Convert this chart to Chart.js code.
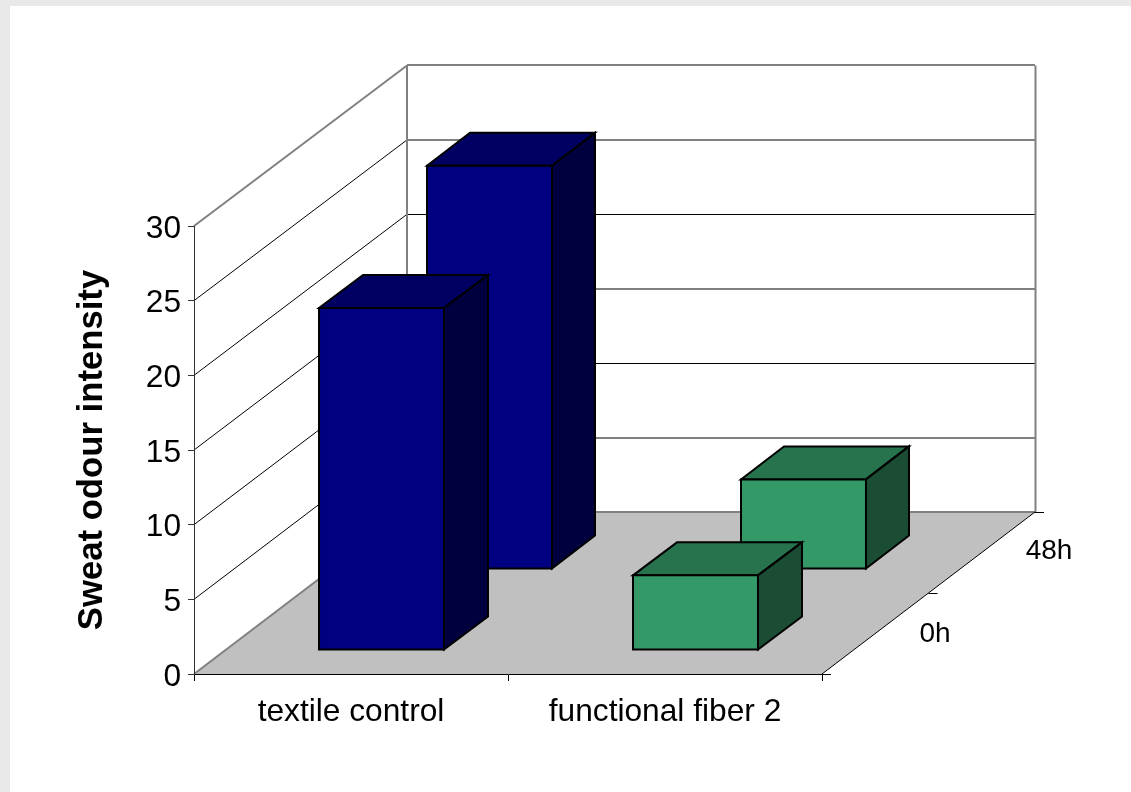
<!DOCTYPE html>
<html><head><meta charset="utf-8">
<style>
html,body{margin:0;padding:0;background:#e9e9e9;overflow:hidden}
#c{position:absolute;left:10px;top:6px;background:#fff;display:block}
</style>
<script src="https://cdn.jsdelivr.net/npm/chart.js@4"></script>
</head><body>
<canvas id="c" width="1121" height="786"></canvas>
<script>
const categories = ['textile control', 'functional fiber 2'];
const seriesNames = ['0h', '48h'];
const values0h = [22.9, 5];
const values48h = [27, 6];
const yTicks = [0, 5, 10, 15, 20, 25, 30];

const FONT = '"Liberation Sans", Arial, sans-serif';
const FLOOR = {dx: 213, dy: -162};           // projection of the depth axis
const BACK_SCALE = 0.9967;                   // back wall is very slightly shorter
const SLOT = [{dx: 30.5, dy: -24}, {dx: 138.5, dy: -105}]; // bar front plane, per series
const BAR = [{dx: 44, dy: -33}, {dx: 43, dy: -33}];        // bar depth, per series
const LABEL = [{x: 925, y: 628}, {x: 1039, y: 545}];
const FACE = [
  {front: '#000080', top: '#000062', side: '#00003f'},
  {front: '#339966', top: '#26734d', side: '#1a4d33'}
];

function poly(ctx, pts, fill, stroke, lw) {
  ctx.beginPath();
  pts.forEach((p, i) => i ? ctx.lineTo(p[0], p[1]) : ctx.moveTo(p[0], p[1]));
  ctx.closePath();
  if (fill) { ctx.fillStyle = fill; ctx.fill(); }
  if (stroke) { ctx.strokeStyle = stroke; ctx.lineWidth = lw; ctx.lineJoin = 'miter'; ctx.stroke(); }
}
function line(ctx, x1, y1, x2, y2, color, lw) {
  ctx.beginPath(); ctx.moveTo(x1, y1); ctx.lineTo(x2, y2);
  ctx.strokeStyle = color; ctx.lineWidth = lw; ctx.stroke();
}

const box3d = {
  id: 'box3d',
  beforeDraw(chart) {
    const {ctx, chartArea: a, scales: {y}} = chart;
    const L = a.left, R = a.right, B = a.bottom;
    const dx = FLOOR.dx, dy = FLOOR.dy;
    const backY = py => B + dy - (B - py) * BACK_SCALE;
    const topBack = backY(a.top);
    ctx.save();
    // floor
    poly(ctx, [[L, B], [R, B], [R + dx, B + dy], [L + dx, B + dy]], '#c0c0c0');
    // gridlines on the two walls, from the value scale
    y.ticks.forEach(t => {
      if (t.value === 0) return;
      const py = y.getPixelForValue(t.value);
      const top = t.value === 30;
      const by = backY(py);
      line(ctx, L, py, L + dx, by, top ? '#808080' : '#000', top ? 2 : 1);
      if (top || t.value % 10 === 5) {
        line(ctx, L + dx, Math.round(by), R + dx, Math.round(by), '#808080', 2);
      } else {
        line(ctx, L + dx, Math.floor(by) + 0.5, R + dx, Math.floor(by) + 0.5, '#000', 1);
      }
    });
    // wall outlines
    line(ctx, L, B, L + dx, B + dy, '#808080', 2);
    line(ctx, L + dx, B + dy, R + dx + 1, B + dy, '#808080', 2);
    line(ctx, L + dx, topBack, L + dx, B + dy, '#808080', 2);
    line(ctx, R + dx + 0.5, topBack, R + dx + 0.5, B + dy, '#808080', 2);
    // right edge of floor and its depth axis ticks
    line(ctx, R, B, R + dx, B + dy, '#000', 1);
    [0, 0.5, 1].forEach(f => {
      const px = R + dx * f, py = Math.round(B + dy * f) + 0.5;
      line(ctx, px, py, px + 9, py, '#000', 1);
    });
    // depth axis labels
    ctx.fillStyle = '#000';
    ctx.font = '28px ' + FONT;
    ctx.textAlign = 'center';
    ctx.textBaseline = 'middle';
    seriesNames.forEach((s, i) => ctx.fillText(s, LABEL[i].x, LABEL[i].y));
    ctx.restore();
  },
  beforeDatasetDraw(chart, args) {
    const {ctx} = chart;
    const i = args.index, s = SLOT[i], b = BAR[i];
    ctx.save();
    ctx.translate(s.dx, s.dy);
    args.meta.data.forEach((el, j) => {
      const p = el.getProps(['x', 'y', 'base', 'width'], true);
      const l = p.x - p.width / 2, r = p.x + p.width / 2;
      const c = FACE[j];
      poly(ctx, [[l, p.y], [r, p.y], [r + b.dx, p.y + b.dy], [l + b.dx, p.y + b.dy]], c.top, '#000', 2);
      poly(ctx, [[r, p.y], [r + b.dx, p.y + b.dy], [r + b.dx, p.base + b.dy], [r, p.base]], c.side, '#000', 2);
    });
  },
  afterDatasetDraw(chart, args) {
    const {ctx} = chart;
    args.meta.data.forEach(el => {
      const p = el.getProps(['x', 'y', 'base', 'width'], true);
      const l = p.x - p.width / 2;
      poly(ctx, [[l, p.y], [l + p.width, p.y], [l + p.width, p.base], [l, p.base]], null, '#000', 2);
    });
    ctx.restore();
  }
};

const tickFont = {family: FONT, size: 31.7};
new Chart(document.getElementById('c'), {
  type: 'bar',
  data: {
    labels: categories,
    datasets: [
      {label: seriesNames[0], data: values0h, clip: false, backgroundColor: [FACE[0].front, FACE[1].front]},
      {label: seriesNames[1], data: values48h, clip: false, backgroundColor: [FACE[0].front, FACE[1].front]}
    ]
  },
  plugins: [box3d],
  options: {
    responsive: false,
    animation: false,
    layout: {padding: {left: 0, top: 220, right: 309, bottom: 0}},
    datasets: {bar: {grouped: false, categoryPercentage: 1, barPercentage: 0.398, borderWidth: 0, inflateAmount: 0}},
    plugins: {legend: {display: false}, tooltip: {enabled: false}, title: {display: false}},
    scales: {
      x: {
        offset: true,
        grid: {offset: true, drawOnChartArea: false, drawTicks: true, tickLength: 7, color: '#000'},
        border: {color: '#000', width: 1},
        ticks: {font: tickFont, color: '#000', padding: 12, maxRotation: 0, autoSkip: false},
        afterFit(s) { s.height = 118; }
      },
      y: {
        min: 0, max: 30,
        grid: {drawOnChartArea: false, drawTicks: true, tickLength: 6, color: '#333'},
        border: {color: '#333', width: 1},
        ticks: {
          font: {family: FONT, size: 31.7, lineHeight: '6px'}, color: '#000', padding: 7, stepSize: 5, autoSkip: false,
          // an empty first line moves the label down by half the line height
          callback: v => ['', String(v)]
        },
        afterBuildTicks(s) { s.ticks = yTicks.map(v => ({value: v})); },
        title: {display: true, text: 'Sweat odour intensity', color: '#000',
                font: {family: FONT, size: 34.7, weight: 'bold'}, padding: {top: 62, bottom: 0}},
        afterFit(s) { s.width = 184; }
      }
    }
  }
});
</script>
</body></html>
